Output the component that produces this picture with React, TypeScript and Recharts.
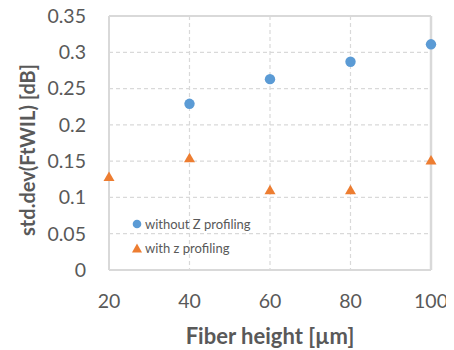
import React from 'react';
import { ScatterChart, Scatter, XAxis, YAxis, CartesianGrid, ReferenceLine } from 'recharts';

const heightsWithout = [40, 60, 80, 100];
const valuesWithout = [0.229, 0.263, 0.287, 0.311];
const heightsWith = [20, 40, 60, 80, 100];
const valuesWith = [0.128, 0.154, 0.110, 0.110, 0.151];
const xTicks = [20, 40, 60, 80, 100];
const yTicks = [0, 0.05, 0.1, 0.15, 0.2, 0.25, 0.3, 0.35];
const seriesNames = ['without Z profiling', 'with z profiling'];

const dataWithout = heightsWithout.map((h, i) => ({ x: h, y: valuesWithout[i] }));
const dataWith = heightsWith.map((h, i) => ({ x: h, y: valuesWith[i] }));

const BLUE = '#5B9BD5';
const ORANGE = '#ED7D31';
const GRID = '#d9d9d9';
const TEXT = '#595959';
const FONT = 'Lato, "Open Sans", sans-serif';

const Circle = (p: any) => <circle cx={p.cx} cy={p.cy} r={5.2} fill={BLUE} />;
const Tri = (p: any) => (
  <polygon
    points={`${p.cx},${p.cy - 5.5} ${p.cx + 5.5},${p.cy + 4} ${p.cx - 5.5},${p.cy + 4}`}
    fill={ORANGE}
  />
);

const LegendBox = () => (
  <div
    style={{
      position: 'absolute',
      left: 131,
      top: 212,
      fontFamily: FONT,
      fontSize: 13,
      color: TEXT,
      lineHeight: '24px',
      whiteSpace: 'nowrap',
    }}
  >
    <div style={{ display: 'flex', alignItems: 'center' }}>
      <svg width={12} height={12} style={{ marginRight: 2 }}>
        <circle cx={6} cy={6} r={4.3} fill={BLUE} />
      </svg>
      {seriesNames[0]}
    </div>
    <div style={{ display: 'flex', alignItems: 'center' }}>
      <svg width={12} height={12} style={{ marginRight: 2 }}>
        <polygon points="6,1.5 11,10.5 1,10.5" fill={ORANGE} />
      </svg>
      {seriesNames[1]}
    </div>
  </div>
);

const YLabel = () => (
  <text
    x={27}
    y={150}
    transform="rotate(-90,27,150)"
    textAnchor="middle"
    dominantBaseline="central"
    fill={TEXT}
    fontFamily={FONT}
    fontWeight="bold"
    fontSize={20}
  >
    std.dev(FtWIL) [dB]
  </text>
);

const XLabel = () => (
  <text
    x={270}
    y={335}
    textAnchor="middle"
    dominantBaseline="central"
    fill={TEXT}
    fontFamily={FONT}
    fontWeight="bold"
    fontSize={22}
  >
    Fiber height [µm]
  </text>
);

export default function App() {
  return (
    <div style={{ position: 'relative', width: 454, height: 350, margin: '-8px 0 0 -8px' }}>
      <ScatterChart width={454} height={350} margin={{ top: 16, right: 23, bottom: 50, left: 8 }}>
        <CartesianGrid stroke={GRID} strokeDasharray="4 3" strokeWidth={1.2} />
        <XAxis
          type="number"
          dataKey="x"
          domain={[20, 100]}
          ticks={xTicks}
          interval={0}
          height={30}
          tickLine={false}
          axisLine={{ stroke: GRID, strokeWidth: 2 }}
          tick={{ fill: TEXT, fontSize: 19.5, fontFamily: FONT }}
          tickMargin={18}
          label={{ content: () => <XLabel /> }}
        />
        <YAxis
          type="number"
          dataKey="y"
          domain={[0, 0.35]}
          ticks={yTicks}
          interval={0}
          width={101}
          tickLine={false}
          axisLine={{ stroke: GRID, strokeWidth: 2 }}
          tick={{ fill: TEXT, fontSize: 19.5, fontFamily: FONT }}
          tickMargin={17}
          label={{ content: () => <YLabel /> }}
        />
        <ReferenceLine y={0.35} stroke={GRID} strokeWidth={2} />
        <ReferenceLine x={100} stroke={GRID} strokeWidth={2.5} />
        <Scatter name={seriesNames[0]} data={dataWithout} shape={Circle} isAnimationActive={false} />
        <Scatter name={seriesNames[1]} data={dataWith} shape={Tri} isAnimationActive={false} />
      </ScatterChart>
      <LegendBox />
    </div>
  );
}
